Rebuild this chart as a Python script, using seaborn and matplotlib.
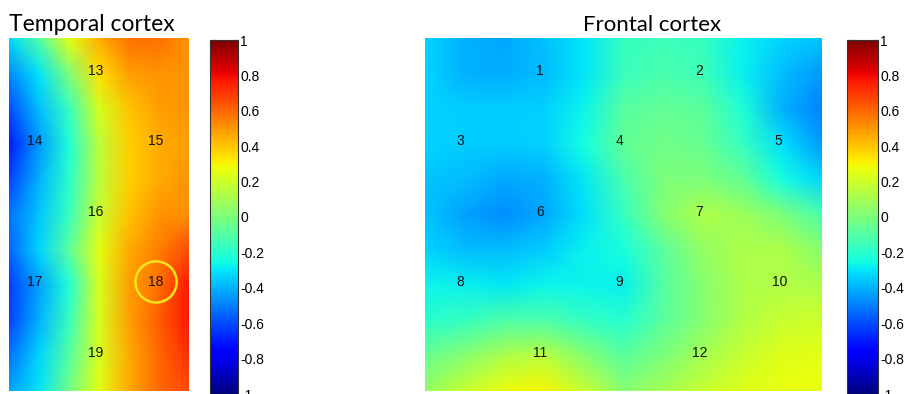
import numpy as np
import pandas as pd
import matplotlib
matplotlib.use("Agg")
import matplotlib.pyplot as plt
import seaborn as sns

# ---------------- data ----------------
titles = ["Temporal cortex", "Frontal cortex"]
temporal_channels = ["13", "14", "15", "16", "17", "18", "19"]
frontal_channels = ["1", "2", "3", "4", "5", "6", "7", "8", "9", "10", "11", "12"]
highlighted_channel = "18"

# correlation map, temporal cortex (rows top->bottom, cols left->right)
temporal_values = [
    [-0.32, -0.10, 0.25, 0.45, 0.58, 0.58, 0.50],
    [-0.48, -0.30, 0.00, 0.35, 0.48, 0.50, 0.50],
    [-0.60, -0.38, -0.17, 0.22, 0.40, 0.48, 0.50],
    [-0.70, -0.45, -0.22, 0.15, 0.38, 0.46, 0.48],
    [-0.62, -0.40, -0.20, 0.15, 0.38, 0.46, 0.50],
    [-0.53, -0.36, -0.17, 0.18, 0.40, 0.50, 0.52],
    [-0.55, -0.33, -0.08, 0.25, 0.46, 0.55, 0.66],
    [-0.63, -0.43, -0.22, 0.22, 0.48, 0.58, 0.77],
    [-0.62, -0.40, -0.17, 0.22, 0.48, 0.62, 0.77],
    [-0.53, -0.33, -0.10, 0.22, 0.46, 0.60, 0.72],
    [-0.43, -0.30, -0.03, 0.25, 0.46, 0.60, 0.66],
]

# correlation map, frontal cortex
frontal_values = [
    [-0.33, -0.40, -0.42, -0.37, -0.30, -0.17, -0.15, -0.17, -0.28, -0.33, -0.36],
    [-0.33, -0.40, -0.41, -0.38, -0.30, -0.16, -0.12, -0.15, -0.28, -0.38, -0.45],
    [-0.33, -0.35, -0.35, -0.34, -0.27, -0.09, -0.06, -0.08, -0.22, -0.40, -0.50],
    [-0.33, -0.35, -0.35, -0.34, -0.25, -0.07, -0.03, -0.05, -0.17, -0.31, -0.45],
    [-0.36, -0.38, -0.42, -0.40, -0.29, -0.12, 0.00, 0.00, -0.06, -0.25, -0.33],
    [-0.36, -0.43, -0.47, -0.42, -0.31, -0.17, 0.02, 0.12, 0.08, 0.00, -0.12],
    [-0.33, -0.38, -0.38, -0.35, -0.28, -0.24, -0.08, 0.06, 0.12, 0.12, 0.03],
    [-0.27, -0.28, -0.29, -0.27, -0.27, -0.28, -0.10, 0.03, 0.12, 0.13, 0.12],
    [-0.20, -0.17, -0.11, -0.11, -0.17, -0.21, -0.08, 0.03, 0.13, 0.18, 0.20],
    [-0.05, 0.03, 0.12, 0.15, 0.03, -0.08, 0.00, 0.10, 0.18, 0.24, 0.25],
    [0.06, 0.18, 0.27, 0.30, 0.18, 0.03, 0.10, 0.18, 0.24, 0.27, 0.27],
]

colorbar_ticks = [-1, -0.8, -0.6, -0.4, -0.2, 0, 0.2, 0.4, 0.6, 0.8, 1]
colorbar_ticklabels = ["-1", "-0.8", "-0.6", "-0.4", "-0.2", "0", "0.2", "0.4", "0.6", "0.8", "1"]

# ---------------- layout (fractions of each map) ----------------
temporal_label_pos = [(0.483, 0.093), (0.144, 0.292), (0.817, 0.292), (0.483, 0.493),
                      (0.144, 0.691), (0.817, 0.691), (0.483, 0.892)]
frontal_label_pos = [(0.29, 0.093), (0.69, 0.093),
                     (0.088, 0.292), (0.489, 0.292), (0.89, 0.292),
                     (0.29, 0.493), (0.69, 0.493),
                     (0.088, 0.691), (0.489, 0.691), (0.893, 0.691),
                     (0.29, 0.892), (0.693, 0.892)]

sns.set_theme(style="white")
plt.rcParams["font.family"] = ["Liberation Sans", "DejaVu Sans"]
plt.rcParams["axes.unicode_minus"] = False

W, H = 909, 394
fig = plt.figure(figsize=(W / 100, H / 100), dpi=100)
fig.patch.set_facecolor("white")


def rect(x0, y0, x1, y1):
    return [x0 / W, 1 - y1 / H, (x1 - x0) / W, (y1 - y0) / H]


ax_t = fig.add_axes(rect(9, 38, 189, 391))
cax_t = fig.add_axes(rect(210, 40, 238, 394))
ax_f = fig.add_axes(rect(425, 38, 822, 391))
cax_f = fig.add_axes(rect(847, 40, 878, 394))


def draw_map(ax, cax, values, channels, positions):
    df = pd.DataFrame(values)
    sns.heatmap(df, ax=ax, cbar_ax=cax, cmap="jet", vmin=-1, vmax=1,
                xticklabels=False, yticklabels=False, shading="gouraud",
                linewidths=0)
    nrows, ncols = df.shape
    ax.set_xlim(0, ncols - 1)
    ax.set_ylim(nrows - 1, 0)
    for spine in ax.spines.values():
        spine.set_visible(False)
    for ch, (fx, fy) in zip(channels, positions):
        x, y = fx * (ncols - 1), fy * (nrows - 1)
        ax.text(x, y, ch, ha="center", va="center", fontsize=10, color="#111111")
        if ch == highlighted_channel:
            ax.scatter([x], [y], s=880, facecolors="none", edgecolors="#f5e41c",
                       linewidths=1.8, zorder=5)
    cb = ax.collections[0].colorbar
    cb.outline.set_linewidth(0.8)
    cb.outline.set_edgecolor("#333333")
    cb.set_ticks(colorbar_ticks)
    cb.set_ticklabels(colorbar_ticklabels)
    cax.tick_params(axis="y", direction="in", left=True, right=True, length=4,
                    width=0.8, labelsize=10, pad=1.5, colors="black")


draw_map(ax_t, cax_t, temporal_values, temporal_channels, temporal_label_pos)
draw_map(ax_f, cax_f, frontal_values, frontal_channels, frontal_label_pos)

fig.text(92 / W, 1 - 31 / H, titles[0], ha="center", va="baseline",
         fontsize=16.5, family=["Lato", "DejaVu Sans"], color="black")
fig.text(652 / W, 1 - 31 / H, titles[1], ha="center", va="baseline",
         fontsize=16, family=["Lato", "DejaVu Sans"], color="black")

fig.savefig("out.png", dpi=100, facecolor="white")
